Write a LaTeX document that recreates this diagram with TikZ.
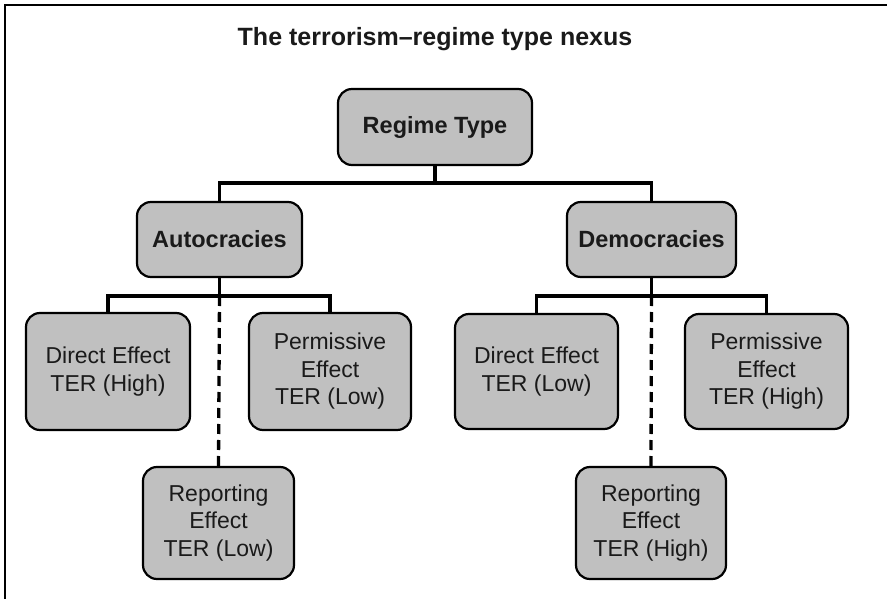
\documentclass[tikz,border=0pt]{standalone}
\usepackage{fontspec}
\setmainfont{Liberation Sans}
\definecolor{boxgray}{HTML}{C0C0C0}
\definecolor{txt}{HTML}{1A1A1A}
\begin{document}
\begin{tikzpicture}[x=1pt,y=-1pt,
  box/.style={draw=black,line width=2.2pt,fill=boxgray,rounded corners=14pt,
    align=center,inner sep=0pt,text=txt,font=\fontsize{23}{27.5}\selectfont},
  boldbox/.style={box,font=\fontsize{23.5}{28}\selectfont\bfseries},
  conn/.style={line width=3.3pt,line cap=rect},
  dconn/.style={line width=3.3pt,dash pattern=on 10pt off 6pt}]
\useasboundingbox (0,0) rectangle (887,599);
\draw[line width=2.8pt] (887,5) -- (5,5) -- (5,599);
\node[font=\fontsize{25}{30}\selectfont\bfseries,text=txt] (title) at (435,39) {The terrorism--regime type nexus};
\node[boldbox,minimum width=194pt,minimum height=76pt] (reg) at (435,127) {Regime Type};
\node[boldbox,minimum width=165pt,minimum height=75pt] (auto) at (219.5,239.5) {Autocracies};
\node[boldbox,minimum width=169pt,minimum height=75pt] (dem) at (651.5,239.5) {Democracies};
\node[box,minimum width=164pt,minimum height=117pt] (ad) at (108,371.5) {Direct Effect\\TER (High)};
\node[box,minimum width=162pt,minimum height=117pt] (ap) at (330,371.5) {Permissive\\Effect\\TER (Low)};
\node[box,minimum width=151pt,minimum height=112pt] (ar) at (218.5,523) {Reporting\\Effect\\TER (Low)};
\node[box,minimum width=163pt,minimum height=115pt] (dd) at (536.5,371.5) {Direct Effect\\TER (Low)};
\node[box,minimum width=163pt,minimum height=115pt] (dp) at (766.5,371.5) {Permissive\\Effect\\TER (High)};
\node[box,minimum width=150pt,minimum height=112pt] (dr) at (651,523) {Reporting\\Effect\\TER (High)};
% connectors
\coordinate (rj) at (435,183);
\draw[conn] (reg.south) -- (rj);
\draw[conn] (rj) -| (auto.north);
\draw[conn] (rj) -| (dem.north);
\coordinate (aj) at (219.5,296);
\draw[conn] (auto.south) -- (aj);
\draw[conn] (aj) -| (ad.north);
\draw[conn] (aj) -| (ap.north);
\draw[dconn] (aj) -- (ar.north);
\coordinate (dj) at (651.5,296);
\draw[conn] (dem.south) -- (dj);
\draw[conn] (dj) -| (dd.north);
\draw[conn] (dj) -| (dp.north);
\draw[dconn] (dj) -- (dr.north);
\end{tikzpicture}
\end{document}
